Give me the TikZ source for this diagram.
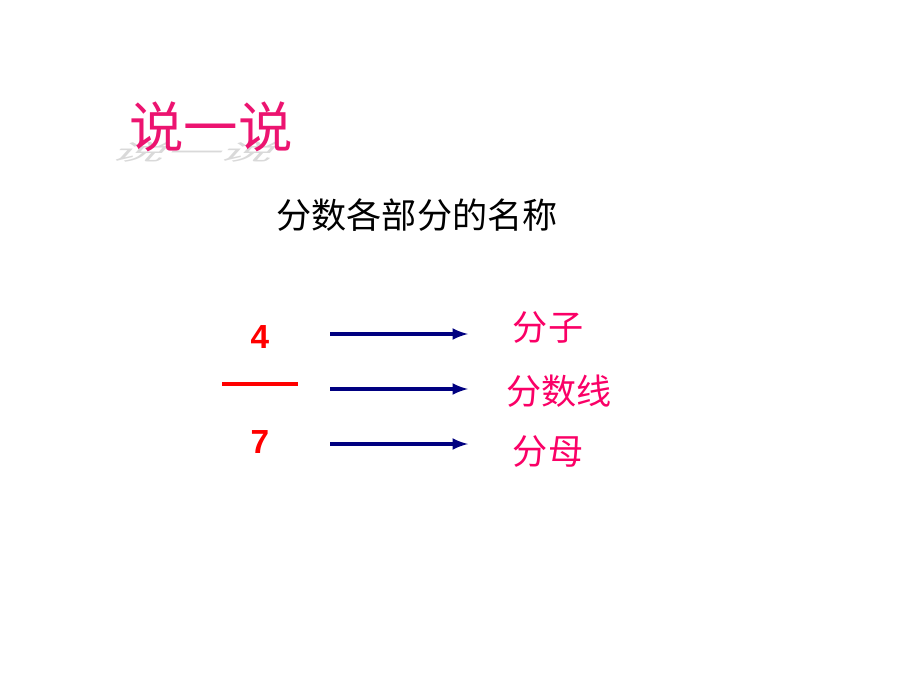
\documentclass[tikz,border=0pt]{standalone}
\usepackage{fontspec}
\setmainfont{Liberation Sans}
\newfontfamily\cjk{Noto Sans CJK SC}
\usetikzlibrary{positioning}
\definecolor{titlepink}{RGB}{236,20,112}
\definecolor{namepink}{RGB}{250,0,102}
\definecolor{pointernavy}{RGB}{0,0,128}

\begin{document}
\begin{tikzpicture}[x=0.02cm, y=-0.02cm,
		zh/.style={font=\cjk\fontsize{20}{24}\selectfont, inner sep=0pt},
		partname/.style={zh, text=namepink},
		digit/.style={font=\fontsize{19}{22}\selectfont\bfseries, text=red, inner sep=0pt},
		pointer/.style={pointernavy, line width=2pt, -latex}]
		\useasboundingbox (0,0) rectangle (920,690);

		% title with its shadow
		\node[font=\cjk\fontsize{31}{36}\selectfont, text=gray!30, inner sep=0pt,
			xslant=0.9, yscale=0.4, transform shape, anchor=south] (shadow) at (188,162) {说一说};
		\node[font=\cjk\fontsize{31}{36}\selectfont, text=titlepink, inner sep=0pt] (title) at (211,127) {说一说};
		\node[zh] (topic) at (417,215) {分数各部分的名称};

		\path
		(260,337) node[digit] (num) {4}
		(260,442) node[digit] (den) {7}
		(548,328) node[partname] (fenzi) {分子}
		(559,391) node[partname] (fenshuxian) {分数线}
		(548,452) node[partname] (fenmu) {分母};

		\coordinate (barl) at (222,384);
		\coordinate (barr) at (298,384);
		\draw[red, line width=2pt] (barl) -- (barr);

		\coordinate (a1) at (330,334);
		\coordinate (b1) at (468,334);
		\coordinate (a2) at (330,389);
		\coordinate (b2) at (468,389);
		\coordinate (a3) at (330,444);
		\coordinate (b3) at (468,444);
		\draw[pointer] (a1) -- (b1);
		\draw[pointer] (a2) -- (b2);
		\draw[pointer] (a3) -- (b3);
	\end{tikzpicture}
\end{document}
